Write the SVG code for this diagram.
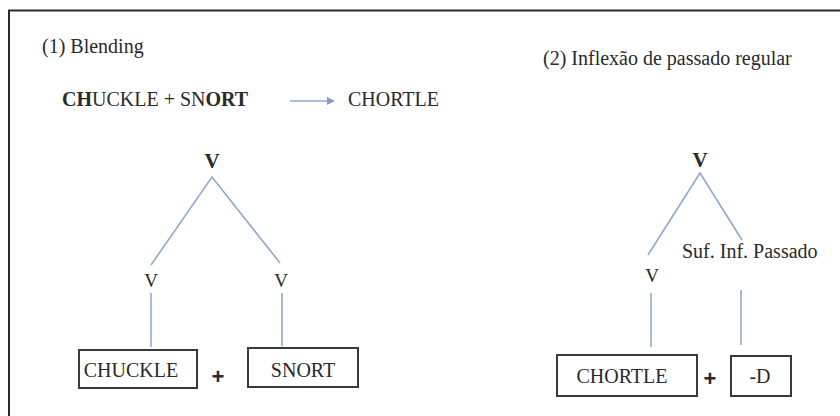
<svg xmlns="http://www.w3.org/2000/svg" width="840" height="416" viewBox="0 0 840 416">
  <style>
    text { font-family: 'Liberation Serif', 'DejaVu Serif', serif; fill: #2a2a2a; }
    .lbl { font-size: 20px; }
    .big { font-size: 21px; font-weight: bold; }
    .sm { font-size: 19px; }
    .box { fill: #ffffff; stroke: #3a3a3a; stroke-width: 2; }
    .edge { stroke: #8eaacb; stroke-width: 1.6; fill: none; }
    text.plus { font-family: 'Liberation Sans', sans-serif; font-size: 22px; font-weight: bold; }
  </style>
  <defs>
    <marker id="arr" viewBox="0 0 10 10" refX="9" refY="5" markerWidth="5" markerHeight="5" orient="auto">
      <path d="M0,0 L10,5 L0,10 z" fill="#7f9fc0"/>
    </marker>
  </defs>

  <rect x="0" y="0" width="840" height="416" fill="#ffffff"/>
  <!-- outer frame, open on the right and bottom -->
  <path d="M9,418 L9,10.5 L842,10.5" fill="none" stroke="#2b2b2b" stroke-width="2"/>

  <!-- headings -->
  <text class="lbl" x="42" y="53">(1) Blending</text>
  <text class="lbl" x="543" y="65">(2) Inflexão de passado regular</text>
  <text class="lbl" x="62" y="106"><tspan font-weight="bold">CH</tspan>UCKLE + SN<tspan font-weight="bold">ORT</tspan></text>
  <text class="lbl" x="348" y="106">CHORTLE</text>

  <!-- connectors -->
  <g id="connectors">
    <line x1="290" y1="101" x2="334" y2="101" class="edge" stroke="#7f9fc0" marker-end="url(#arr)"/>
    <polyline class="edge" points="151,265 212,177 280,263"/>
    <line class="edge" x1="151" y1="293" x2="151" y2="347"/>
    <line class="edge" x1="282" y1="293" x2="282" y2="346"/>
    <polyline class="edge" points="648,255 700,173 742,240"/>
    <line class="edge" x1="651" y1="293" x2="651" y2="347"/>
    <line class="edge" x1="741" y1="290" x2="741" y2="345"/>
  </g>

  <!-- tree 1 -->
  <g id="v-root-1"><text class="big" x="212" y="168" text-anchor="middle">V</text></g>
  <g id="v-left-1"><text class="sm" x="151" y="287" text-anchor="middle">V</text></g>
  <g id="v-right-1"><text class="sm" x="281" y="287" text-anchor="middle">V</text></g>
  <g id="chuckle">
    <rect class="box" x="79" y="350" width="118" height="38"/>
    <text class="lbl" x="131" y="377" text-anchor="middle">CHUCKLE</text>
  </g>
  <g id="plus-1"><text class="plus" x="218" y="384" text-anchor="middle">+</text></g>
  <g id="snort">
    <rect class="box" x="248" y="348" width="110" height="39"/>
    <text class="lbl" x="303" y="377" text-anchor="middle">SNORT</text>
  </g>

  <!-- tree 2 -->
  <g id="v-root-2"><text class="big" x="700" y="167" text-anchor="middle">V</text></g>
  <g id="v-left-2"><text class="sm" x="652" y="282" text-anchor="middle">V</text></g>
  <g id="suffix"><text class="lbl" x="682" y="258">Suf. Inf. Passado</text></g>
  <g id="chortle">
    <rect class="box" x="557" y="355" width="140" height="41"/>
    <text class="lbl" x="622" y="383" text-anchor="middle" font-size="21">CHORTLE</text>
  </g>
  <g id="plus-2"><text class="plus" x="710" y="386" text-anchor="middle">+</text></g>
  <g id="suffix-d">
    <rect class="box" x="731" y="356" width="60" height="40"/>
    <text class="lbl" x="760" y="383" text-anchor="middle" font-size="21">-D</text>
  </g>
</svg>
